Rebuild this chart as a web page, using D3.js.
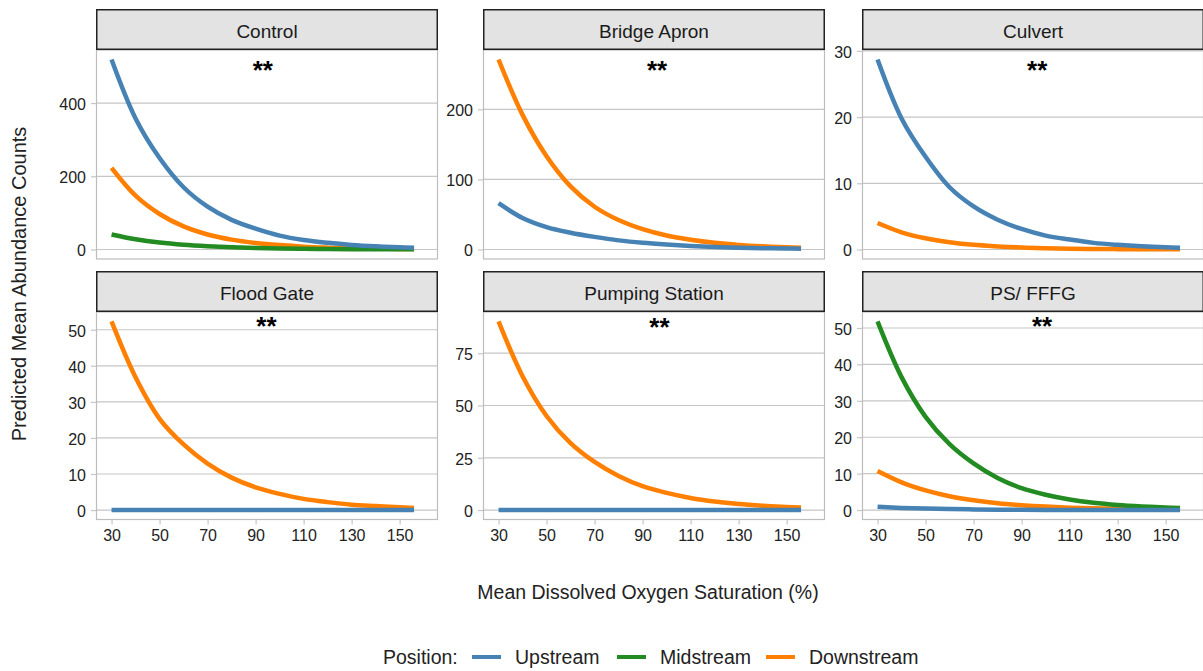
<!DOCTYPE html>
<html>
<head>
<meta charset="utf-8">
<script src="https://cdn.jsdelivr.net/npm/d3@7"></script>
<style>
  html, body { margin: 0; padding: 0; background: #ffffff; }
  svg { display: block; font-family: "Liberation Sans", Arial, sans-serif; }
</style>
</head>
<body>
<svg id="chart" width="1203" height="671"></svg>
<script>
// ---------------- data ----------------
const panelNames = ["Control", "Bridge Apron", "Culvert", "Flood Gate", "Pumping Station", "PS/ FFFG"];
const positions = ["Upstream", "Midstream", "Downstream"];
const positionColors = ["#4682B4", "#228B22", "#FF7F00"];

const xValues = [30, 40, 50, 60, 70, 80, 90, 100, 110, 120, 130, 140, 150, 156];
const xTicks = [30, 50, 70, 90, 110, 130, 150];
const xExtent = [30, 159.5];

// Control
const controlUpstream   = [519, 358, 250, 170, 117, 81, 57, 38, 26, 18.3, 12.6, 8.7, 6.0, 4.8];
const controlMidstream  = [41, 28, 19, 13, 9, 6.1, 4.2, 2.9, 2.0, 1.3, 0.9, 0.6, 0.4, 0.35];
const controlDownstream = [223, 147, 97, 63, 41, 27, 18, 12, 7.7, 5.1, 3.3, 2.2, 1.4, 1.1];
// Bridge Apron
const bridgeUpstream    = [66, 45, 32, 24, 18, 13, 9.5, 7, 5, 3.6, 2.6, 1.9, 1.4, 1.1];
const bridgeDownstream  = [271, 192, 133, 90, 61, 42, 29, 20, 14, 9.6, 6.6, 4.6, 3.1, 2.5];
// Culvert
const culvertUpstream   = [28.7, 19.8, 14.0, 9.4, 6.5, 4.5, 3.1, 2.1, 1.5, 1.0, 0.7, 0.48, 0.33, 0.27];
const culvertDownstream = [4.0, 2.6, 1.7, 1.1, 0.7, 0.47, 0.3, 0.2, 0.13, 0.085, 0.055, 0.036, 0.024, 0.019];
// Flood Gate
const floodUpstream     = [0.05, 0.04, 0.03, 0.02, 0.015, 0.01, 0.008, 0.006, 0.004, 0.003, 0.002, 0.002, 0.001, 0.001];
const floodDownstream   = [52.3, 36.8, 25.3, 18.2, 12.9, 9.0, 6.3, 4.5, 3.1, 2.2, 1.5, 1.1, 0.75, 0.6];
// Pumping Station
const pumpUpstream      = [0.08, 0.06, 0.05, 0.04, 0.03, 0.02, 0.015, 0.01, 0.008, 0.006, 0.004, 0.003, 0.002, 0.002];
const pumpDownstream    = [90.2, 64, 45, 32, 23, 16.3, 11.4, 8.2, 5.8, 4.1, 2.9, 2.1, 1.5, 1.2];
// PS/ FFFG
const psUpstream        = [0.9, 0.6, 0.4, 0.27, 0.18, 0.12, 0.08, 0.05, 0.035, 0.023, 0.015, 0.01, 0.007, 0.006];
const psMidstream       = [51.8, 36.5, 25.6, 18.1, 12.8, 8.8, 6.0, 4.2, 2.9, 2.0, 1.4, 1.0, 0.7, 0.55];
const psDownstream      = [10.7, 7.6, 5.4, 3.8, 2.7, 1.9, 1.35, 0.95, 0.67, 0.47, 0.33, 0.24, 0.17, 0.14];

const yTicksControl = [0, 200, 400];
const yTicksBridge  = [0, 100, 200];
const yTicksCulvert = [0, 10, 20, 30];
const yTicksFlood   = [0, 10, 20, 30, 40, 50];
const yTicksPump    = [0, 25, 50, 75];
const yTicksPS      = [0, 10, 20, 30, 40, 50];

const annotText = "**";
const annotX = [93, 96, 96.5, 94.5, 97, 98.5];
const annotY = [504, 263, 27.9, 52.3, 90, 51.8];

const xTitle = "Mean Dissolved Oxygen Saturation (%)";
const yTitle = "Predicted Mean Abundance Counts";
const legendTitle = "Position:";

// series per panel: [Upstream, Midstream, Downstream] (null = absent)
const panelSeries = [
  [controlUpstream, controlMidstream, controlDownstream],
  [bridgeUpstream, null, bridgeDownstream],
  [culvertUpstream, null, culvertDownstream],
  [floodUpstream, null, floodDownstream],
  [pumpUpstream, null, pumpDownstream],
  [psUpstream, psMidstream, psDownstream]
];
const panelTicks = [yTicksControl, yTicksBridge, yTicksCulvert, yTicksFlood, yTicksPump, yTicksPS];

// ---------------- layout ----------------
const svg = d3.select("#chart");
const colLeft = [96, 483, 862];
const panelW = 342;
const stripTop = [9, 271];
const stripH = 41;
const plotBottom = [259, 519.5];

const gridColor = "#c6c6c6";
const borderColor = "#bdbdbd";
const textColor = "#222222";

panelNames.forEach((name, i) => {
  const col = i % 3, row = Math.floor(i / 3);
  const x0 = colLeft[col];
  const top = stripTop[row] + stripH;
  const bottom = plotBottom[row];
  const series = panelSeries[i];

  const x = d3.scaleLinear()
    .domain([xExtent[0] - 0.05 * (xExtent[1] - xExtent[0]), xExtent[1] + 0.05 * (xExtent[1] - xExtent[0])])
    .range([x0, x0 + panelW]);
  const maxY = d3.max(series.filter(s => s), s => d3.max(s));
  const minY = 0;
  const r = maxY - minY;
  const y = d3.scaleLinear()
    .domain([minY - 0.05 * r, maxY + 0.05 * r])
    .range([bottom, top]);

  const g = svg.append("g");

  // gridlines
  g.selectAll("line.grid").data(panelTicks[i]).enter().append("line")
    .attr("x1", x0).attr("x2", x0 + panelW)
    .attr("y1", d => y(d)).attr("y2", d => y(d))
    .attr("stroke", gridColor).attr("stroke-width", 1.2);

  // panel border
  g.append("rect")
    .attr("x", x0 + 0.5).attr("y", top)
    .attr("width", panelW - 1).attr("height", bottom - top)
    .attr("fill", "none").attr("stroke", borderColor).attr("stroke-width", 1.2);

  // y axis
  const yAxis = d3.axisLeft(y).tickValues(panelTicks[i]).tickSize(5).tickPadding(5).tickSizeOuter(0);
  const ya = g.append("g").attr("transform", `translate(${x0},0)`).call(yAxis);
  ya.select(".domain").remove();
  ya.selectAll(".tick line").attr("stroke", gridColor).attr("stroke-width", 1.2);
  ya.selectAll(".tick text").attr("fill", textColor).attr("dy", "0.4em").style("font-size", "16px")
    .style("font-family", "'Liberation Sans', Arial, sans-serif");

  // x axis only on bottom row
  if (row === 1) {
    const xAxis = d3.axisBottom(x).tickValues(xTicks).tickSize(5).tickPadding(5).tickSizeOuter(0);
    const xa = g.append("g").attr("transform", `translate(0,${bottom})`).call(xAxis);
    xa.select(".domain").remove();
    xa.selectAll(".tick line").attr("stroke", gridColor).attr("stroke-width", 1.2);
    xa.selectAll(".tick text").attr("fill", textColor).style("font-size", "16px")
      .style("font-family", "'Liberation Sans', Arial, sans-serif");
  }

  // lines: Downstream, Midstream, Upstream (upstream on top)
  const line = d3.line()
    .x((d, j) => x(xValues[j]))
    .y(d => y(d))
    .curve(d3.curveCatmullRom.alpha(0.5));
  [2, 1, 0].forEach(k => {
    if (!series[k]) return;
    g.append("path")
      .datum(series[k])
      .attr("d", line)
      .attr("fill", "none")
      .attr("stroke", positionColors[k])
      .attr("stroke-width", 4.5);
  });

  // annotation
  g.append("text")
    .attr("x", x(annotX[i]))
    .attr("y", y(annotY[i]) + 14)
    .attr("text-anchor", "middle")
    .attr("fill", "#000")
    .style("font-size", "26px")
    .style("font-weight", "bold")
    .text(annotText);

  // strip
  g.append("rect")
    .attr("x", x0 + 0.75).attr("y", stripTop[row] + 0.75)
    .attr("width", panelW - 1.5).attr("height", stripH - 1.5)
    .attr("fill", "#e3e3e3").attr("stroke", "#222").attr("stroke-width", 1.5);
  g.append("text")
    .attr("x", x0 + panelW / 2)
    .attr("y", stripTop[row] + 22)
    .attr("dy", "0.35em")
    .attr("text-anchor", "middle")
    .attr("fill", "#1a1a1a")
    .style("font-size", "19px")
    .text(name);
});

// axis titles
svg.append("text")
  .attr("x", 648).attr("y", 592).attr("dy", "0.35em")
  .attr("text-anchor", "middle").attr("fill", textColor)
  .style("font-size", "19.5px").text(xTitle);

svg.append("text")
  .attr("transform", "translate(19,284) rotate(-90)")
  .attr("dy", "0.35em")
  .attr("text-anchor", "middle").attr("fill", textColor)
  .style("font-size", "20px").text(yTitle);

// legend
const legendY = 657;
const leg = svg.append("g");
leg.append("text").attr("x", 383).attr("y", legendY).attr("dy", "0.35em")
  .attr("fill", textColor).style("font-size", "19.5px").text(legendTitle);
const keyX = [472, 617, 766];
positions.forEach((p, k) => {
  leg.append("line")
    .attr("x1", keyX[k]).attr("x2", keyX[k] + 29)
    .attr("y1", legendY).attr("y2", legendY)
    .attr("stroke", positionColors[k]).attr("stroke-width", 4);
  leg.append("text").attr("x", keyX[k] + 43).attr("y", legendY).attr("dy", "0.35em")
    .attr("fill", textColor).style("font-size", "19.5px").text(p);
});
</script>
</body>
</html>
